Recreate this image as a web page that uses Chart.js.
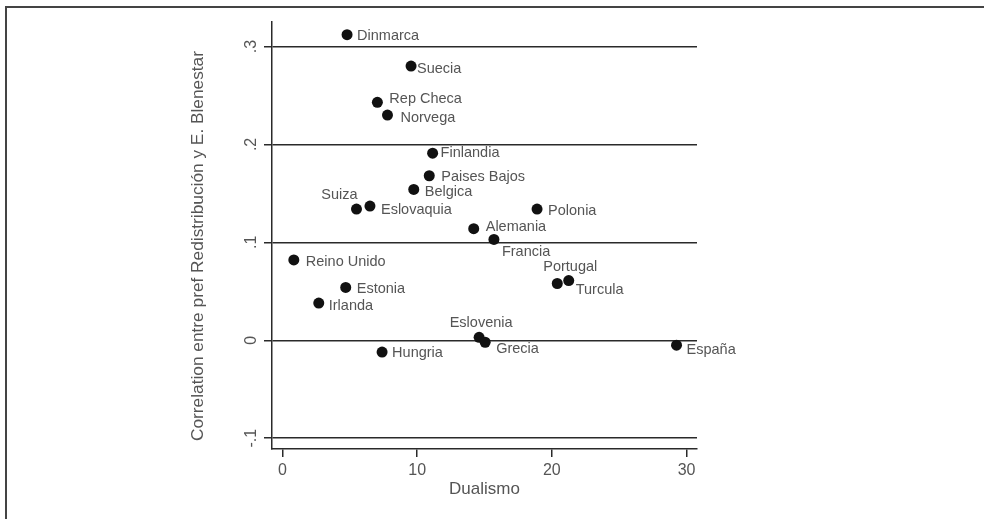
<!DOCTYPE html>
<html>
<head>
<meta charset="utf-8">
<script src="https://cdn.jsdelivr.net/npm/chart.js@4/dist/chart.umd.min.js"></script>
<style>
  html, body { margin: 0; padding: 0; background: #fff; }
  #wrap { position: relative; width: 984px; height: 519px; overflow: hidden; }
  #frame { position: absolute; left: 5px; top: 6px; right: -10px; bottom: -10px;
           border-top: 2px solid #444; border-left: 2px solid #444; pointer-events: none; }
  canvas { position: absolute; left: 0; top: 0; }
</style>
</head>
<body>
<div id="wrap">
  <canvas id="chart" width="984" height="519"></canvas>
  <div id="frame"></div>
</div>
<script>
// Countries, dualism index and the correlation between redistribution
// preferences and welfare-state support.
const countries = ["Dinmarca", "Suecia", "Rep Checa", "Norvega", "Finlandia",
  "Paises Bajos", "Belgica", "Suiza", "Eslovaquia", "Polonia", "Alemania",
  "Francia", "Reino Unido", "Portugal", "Turcula", "Estonia", "Irlanda",
  "Eslovenia", "Grecia", "Hungria", "España"];
const dualismo = [4.8, 9.55, 7.05, 7.8, 11.15, 10.9, 9.75, 5.5, 6.5, 18.9, 14.2,
  15.7, 0.85, 20.4, 21.25, 4.7, 2.7, 14.6, 15.05, 7.4, 29.25];
const correlacion = [0.312, 0.280, 0.243, 0.230, 0.191, 0.168, 0.154, 0.134, 0.137,
  0.134, 0.114, 0.103, 0.082, 0.058, 0.061, 0.054, 0.038, 0.003, -0.002, -0.012, -0.005];
const xTicks = [0, 10, 20, 30];
const yTicks = [-0.1, 0, 0.1, 0.2, 0.3];
const yTickLabels = ["-.1", "0", ".1", ".2", ".3"];
const xTitle = "Dualismo";
const yTitle = "Correlation entre pref Redistribución y E. Blenestar";

// Where each country name sits relative to its marker: [dx, dy, align]
const labelPlacement = {
  "Dinmarca": [10, 1, "left"], "Suecia": [6, 3, "left"], "Rep Checa": [12, -3, "left"],
  "Norvega": [13, 3, "left"], "Finlandia": [8, 0, "left"], "Paises Bajos": [12, 1, "left"],
  "Belgica": [11, 3, "left"], "Suiza": [1, -14, "right"], "Eslovaquia": [11, 4, "left"],
  "Polonia": [11, 2, "left"], "Alemania": [12, -2, "left"], "Francia": [8, 13, "left"],
  "Reino Unido": [12, 2, "left"], "Portugal": [-14, -16, "left"], "Turcula": [7, 9, "left"],
  "Estonia": [11, 2, "left"], "Irlanda": [10, 3, "left"], "Eslovenia": [2, -14, "center"],
  "Grecia": [11, 7, "left"], "Hungria": [10, 1, "left"], "España": [10, 5, "left"]
};

const FONT = "'Liberation Sans', Arial, Helvetica, sans-serif";
const TEXT = "#555";
const LINE = "#2a2a2a";

// Country names next to each marker
const pointLabels = {
  id: "pointLabels",
  afterDatasetsDraw(chart) {
    const ctx = chart.ctx;
    const meta = chart.getDatasetMeta(0);
    ctx.save();
    ctx.font = "14.5px " + FONT;
    ctx.fillStyle = TEXT;
    ctx.textBaseline = "middle";
    meta.data.forEach((pt, i) => {
      const name = countries[i];
      const [dx, dy, align] = labelPlacement[name] || [10, 0, "left"];
      ctx.textAlign = align;
      ctx.fillText(name, pt.x + dx, pt.y + dy);
    });
    ctx.restore();
  }
};

// Vertical axis title, set a little below the middle of the axis
const yAxisTitle = {
  id: "yAxisTitle",
  afterDraw(chart) {
    const ctx = chart.ctx;
    const y = chart.scales.y;
    ctx.save();
    ctx.translate(198, (y.top + y.bottom) / 2 + 10.5);
    ctx.rotate(-Math.PI / 2);
    ctx.font = "17.3px " + FONT;
    ctx.fillStyle = TEXT;
    ctx.textAlign = "center";
    ctx.textBaseline = "middle";
    ctx.fillText(yTitle, 0, 0);
    ctx.restore();
  }
};

new Chart(document.getElementById("chart"), {
  type: "scatter",
  data: {
    datasets: [{
      data: countries.map((c, i) => ({ x: dualismo[i], y: correlacion[i] })),
      backgroundColor: "#111",
      borderColor: "#111",
      pointRadius: 5.5,
      pointHoverRadius: 5.5,
      borderWidth: 0
    }]
  },
  options: {
    responsive: false,
    animation: false,
    events: [],
    layout: { padding: { left: 0, top: 22, right: 287, bottom: 0 } },
    plugins: { legend: { display: false }, tooltip: { enabled: false } },
    scales: {
      x: {
        type: "linear",
        min: -0.77,
        max: 30.77,
        afterBuildTicks(scale) { scale.ticks = xTicks.map(v => ({ value: v })); },
        afterFit(scale) { scale.height = 70; },
        border: { display: true, color: LINE, width: 1.5 },
        grid: { drawOnChartArea: false, drawTicks: true, tickLength: 8, color: LINE, lineWidth: 1.5 },
        ticks: { color: TEXT, font: { family: FONT, size: 16 }, padding: 4, maxRotation: 0,
                 callback: v => String(v) },
        title: { display: true, text: xTitle, color: TEXT,
                 font: { family: FONT, size: 17 }, padding: { top: 0, bottom: 19 } }
      },
      y: {
        type: "linear",
        min: -0.111,
        max: 0.325,
        afterBuildTicks(scale) { scale.ticks = yTicks.map(v => ({ value: v })); },
        afterFit(scale) { scale.width = 272; },
        border: { display: true, color: LINE, width: 1.5 },
        grid: { drawOnChartArea: true, drawTicks: true, tickLength: 8, color: LINE, lineWidth: 1.5 },
        ticks: {
          color: TEXT, font: { family: FONT, size: 16 }, padding: 3,
          minRotation: 90, maxRotation: 90, crossAlign: "center",
          callback: v => {
            const k = yTicks.findIndex(t => Math.abs(t - v) < 1e-9);
            return k >= 0 ? yTickLabels[k] : "";
          }
        },
        title: { display: false }
      }
    }
  },
  plugins: [pointLabels, yAxisTitle]
});
</script>
</body>
</html>
